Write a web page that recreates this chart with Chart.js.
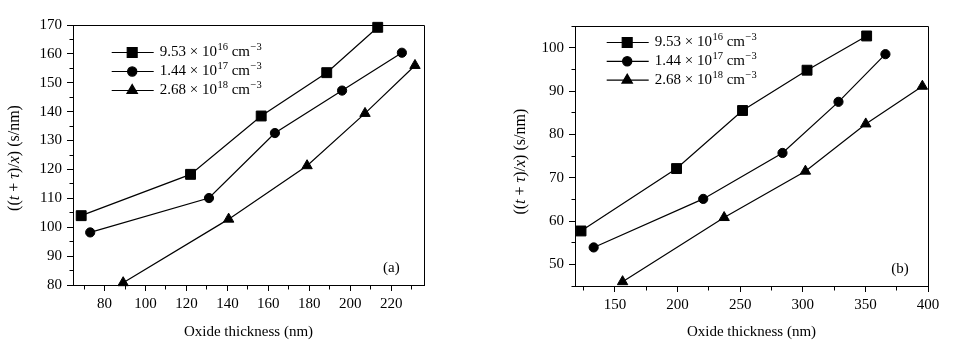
<!DOCTYPE html>
<html>
<head>
<meta charset="utf-8">
<script src="https://cdn.jsdelivr.net/npm/chart.js@4.4.0/dist/chart.umd.min.js"></script>
<style>
    body { margin: 0; background: #fff; }
    #wrap { position: relative; width: 973px; height: 348px; }
    .box { position: absolute; top: 0; height: 348px; }
    #boxA { left: 0; width: 486px; }
    #boxB { left: 486px; width: 487px; }
</style>
</head>
<body>
<div id="wrap">
    <div class="box" id="boxA"><canvas id="chartA"></canvas></div>
    <div class="box" id="boxB"><canvas id="chartB"></canvas></div>
</div>
<script>
// panel (a)
var xA_sq = [68.6, 122, 156.5, 188.5, 213.4];
var yA_sq = [104, 118.3, 138.5, 153.5, 169.2];
var xA_ci = [73, 131, 163.2, 196, 225.2];
var yA_ci = [98.2, 110.1, 132.6, 147.3, 160.4];
var xA_tr = [89.1, 140.6, 178.9, 207.2, 231.6];
var yA_tr = [80.8, 102.8, 121.3, 139.4, 156];
var xTicksA = [80, 100, 120, 140, 160, 180, 200, 220];
var xMinorA = [70, 90, 110, 130, 150, 170, 190, 210, 230];
var yTicksA = [80, 90, 100, 110, 120, 130, 140, 150, 160, 170];
var yMinorA = [85, 95, 105, 115, 125, 135, 145, 155, 165];

// panel (b)
var xB_sq = [122.9, 199.2, 251.9, 303.4, 351];
var yB_sq = [57.7, 72.1, 85.5, 94.8, 102.7];
var xB_ci = [133, 220.5, 283.8, 328.5, 366];
var yB_ci = [53.9, 65.1, 75.7, 87.5, 98.5];
var xB_tr = [156.1, 237.2, 302.1, 350.3, 395.5];
var yB_tr = [46, 60.8, 71.5, 82.4, 91.1];
var xTicksB = [150, 200, 250, 300, 350, 400];
var xMinorB = [125, 175, 225, 275, 325, 375];
var yTicksB = [50, 60, 70, 80, 90, 100];
var yMinorB = [45, 55, 65, 75, 85, 95, 105];

var legendMant = ["9.53 × 10", "1.44 × 10", "2.68 × 10"];
var legendExp = ["16", "17", "18"];
var legendUnit = " cm";
var legendUnitExp = "−3";
var markerStyles = ["rect", "circle", "triangle"];
var markerRadius = [7, 4.6, 6];
var yTitleParts = [["((", 0], ["t", 1], [" + ", 0], ["τ", 1], [")/", 0], ["x", 1], [") (s/nm)", 0]];
var xTitle = "Oxide thickness (nm)";

var serif = "'Liberation Serif', 'Times New Roman', serif";

function toPoints(xs, ys) {
    return xs.map(function(v, i) { return { x: v, y: ys[i] }; });
}

function px(v) {
    return Math.round(v - 0.5) + 0.5;
}

function marker(ctx, style, r, x, y) {
    if (Chart.helpers && Chart.helpers.drawPoint) {
        Chart.helpers.drawPoint(ctx, { pointStyle: style, radius: r, rotation: 0, borderWidth: 1 }, x, y);
        return;
    }
    ctx.beginPath();
    ctx.arc(x, y, r, 0, Math.PI * 2);
    ctx.fill();
}

var decor = {
    id: 'decor',
    afterDraw: function(chart) {
        var o = chart.options.plugins.decor;
        var ctx = chart.ctx, a = chart.chartArea;
        var xs = chart.scales.x, ys = chart.scales.y;
        ctx.save();
        ctx.strokeStyle = '#000';
        ctx.fillStyle = '#000';
        ctx.lineWidth = 1;

        // frame
        ctx.beginPath();
        ctx.moveTo(px(a.left), px(a.top));
        ctx.lineTo(px(a.right), px(a.top));
        ctx.lineTo(px(a.right), px(a.bottom));
        ctx.stroke();

        // minor ticks
        ctx.beginPath();
        o.xMinor.forEach(function(v) {
            var p = px(xs.getPixelForValue(v));
            ctx.moveTo(p, px(a.bottom));
            ctx.lineTo(p, px(a.bottom) + 4);
        });
        o.yMinor.forEach(function(v) {
            var p = px(ys.getPixelForValue(v));
            ctx.moveTo(px(a.left), p);
            ctx.lineTo(px(a.left) - 4, p);
        });
        ctx.stroke();

        // y title with italic parts
        ctx.save();
        ctx.translate(o.titleX, o.titleY);
        ctx.rotate(-Math.PI / 2);
        ctx.textBaseline = 'middle';
        var total = 0;
        yTitleParts.forEach(function(p) {
            ctx.font = (p[1] ? 'italic ' : '') + '16px ' + serif;
            total += ctx.measureText(p[0]).width;
        });
        var tx = -total / 2;
        yTitleParts.forEach(function(p) {
            ctx.font = (p[1] ? 'italic ' : '') + '16px ' + serif;
            ctx.fillText(p[0], tx, 0);
            tx += ctx.measureText(p[0]).width;
        });
        ctx.restore();

        // legend
        ctx.lineWidth = 1.2;
        for (var i = 0; i < 3; i++) {
            var ly = o.legY + i * o.legStep;
            ctx.beginPath();
            ctx.moveTo(o.legX, ly);
            ctx.lineTo(o.legX + 42, ly);
            ctx.stroke();
            marker(ctx, markerStyles[i], markerRadius[i], o.legX + 20.5, ly);
            var t = o.legX + 48;
            ctx.textBaseline = 'middle';
            ctx.font = '15px ' + serif;
            ctx.fillText(legendMant[i], t, ly);
            t += ctx.measureText(legendMant[i]).width;
            ctx.font = '10.5px ' + serif;
            ctx.fillText(legendExp[i], t + 0.5, ly - 5);
            t += ctx.measureText(legendExp[i]).width + 0.5;
            ctx.font = '15px ' + serif;
            ctx.fillText(legendUnit, t, ly);
            t += ctx.measureText(legendUnit).width;
            ctx.font = '10.5px ' + serif;
            ctx.fillText(legendUnitExp, t + 0.5, ly - 5);
        }

        // panel label
        ctx.font = '15px ' + serif;
        ctx.textAlign = 'center';
        ctx.textBaseline = 'middle';
        ctx.fillText(o.panel, a.right - o.panelDx, a.bottom - 17);
        ctx.restore();
    }
};

function makeChart(id, sets, cfg) {
    var datasets = sets.map(function(s, i) {
        return {
            data: toPoints(s[0], s[1]),
            borderColor: '#000',
            backgroundColor: '#000',
            borderWidth: 1.2,
            pointStyle: markerStyles[i],
            pointRadius: markerRadius[i],
            pointHoverRadius: markerRadius[i],
            pointBorderWidth: 1,
            clip: false
        };
    });
    var tickFont = { family: serif, size: 15 };
    return new Chart(document.getElementById(id), {
        type: 'line',
        data: { datasets: datasets },
        plugins: [decor],
        options: {
            responsive: true,
            maintainAspectRatio: false,
            animation: false,
            devicePixelRatio: 1,
            events: [],
            layout: { padding: { left: 0, right: cfg.padRight, top: cfg.padTop, bottom: 0 } },
            plugins: {
                legend: { display: false },
                tooltip: { enabled: false },
                decor: cfg.decor
            },
            scales: {
                x: {
                    type: 'linear',
                    min: cfg.xMin,
                    max: cfg.xMax,
                    afterBuildTicks: function(s) {
                        s.ticks = cfg.xTicks.map(function(v) { return { value: v }; });
                    },
                    afterFit: function(s) { s.height = cfg.xHeight; },
                    grid: { display: true, drawOnChartArea: false, drawTicks: true, tickLength: 6, color: '#000' },
                    border: { display: true, color: '#000', width: 1 },
                    ticks: { color: '#000', font: tickFont, padding: 4, maxRotation: 0, autoSkip: false },
                    title: { display: true, text: xTitle, color: '#000', font: { family: serif, size: 15 }, padding: { top: 0, bottom: 7 } }
                },
                y: {
                    type: 'linear',
                    min: cfg.yMin,
                    max: cfg.yMax,
                    afterBuildTicks: function(s) {
                        s.ticks = cfg.yTicks.map(function(v) { return { value: v }; });
                    },
                    afterFit: function(s) { s.width = cfg.yWidth; },
                    grid: { display: true, drawOnChartArea: false, drawTicks: true, tickLength: 6, color: '#000' },
                    border: { display: true, color: '#000', width: 1 },
                    ticks: { color: '#000', font: tickFont, padding: 5, autoSkip: false }
                }
            }
        }
    });
}

var chartA = makeChart('chartA', [[xA_sq, yA_sq], [xA_ci, yA_ci], [xA_tr, yA_tr]], {
    xMin: 64.6, xMax: 236, yMin: 80, yMax: 170,
    xTicks: xTicksA, yTicks: yTicksA,
    padRight: 62, padTop: 25, xHeight: 63, yWidth: 73,
    decor: {
        xMinor: xMinorA, yMinor: yMinorA,
        titleX: 15, titleY: 158,
        legX: 111.7, legY: 52.5, legStep: 19,
        panel: '(a)', panelDx: 32.6
    }
});

var chartB = makeChart('chartB', [[xB_sq, yB_sq], [xB_ci, yB_ci], [xB_tr, yB_tr]], {
    xMin: 118.1, xMax: 400, yMin: 45, yMax: 105,
    xTicks: xTicksB, yTicks: yTicksB,
    padRight: 45, padTop: 26, xHeight: 62, yWidth: 89,
    decor: {
        xMinor: xMinorB, yMinor: yMinorB,
        titleX: 34.7, titleY: 161.7,
        legX: 120.7, legY: 42.5, legStep: 18.8,
        panel: '(b)', panelDx: 28
    }
});
</script>
</body>
</html>
